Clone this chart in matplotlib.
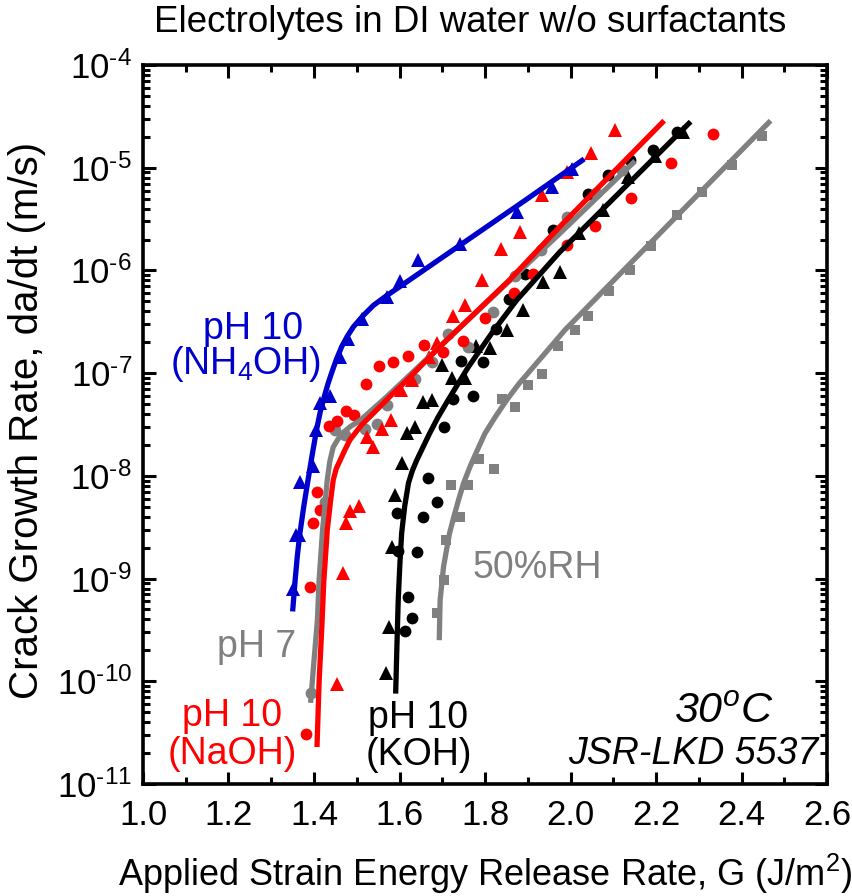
import numpy as np
import matplotlib
matplotlib.use("Agg")
import matplotlib.pyplot as plt
from matplotlib.ticker import FixedLocator, LogLocator, NullFormatter, FuncFormatter, MultipleLocator

plt.rcParams['font.family'] = ['Liberation Sans', 'DejaVu Sans']
plt.rcParams['mathtext.fontset'] = 'custom'
plt.rcParams['mathtext.rm'] = 'Liberation Sans'
plt.rcParams['mathtext.it'] = 'Liberation Sans:italic'

# ---------------- data (G in J/m^2, log10 of da/dt in m/s) ----------------
# pH 10 (NH4OH) - blue
blue_fit_x = [1.350, 1.356, 1.361, 1.367, 1.376, 1.386, 1.396, 1.406, 1.415, 1.426, 1.433, 1.441, 1.452, 1.465,
              1.478, 1.492, 1.515, 1.539, 1.570, 1.600, 1.750, 1.900, 2.032]
blue_fit_logv = [-9.32, -9.01, -8.78, -8.56, -8.30, -8.04, -7.79, -7.55, -7.37, -7.20, -7.10, -7.00, -6.87, -6.74,
                 -6.64, -6.55, -6.44, -6.34, -6.245, -6.16, -5.73, -5.30, -4.915]
blue_tri_x = [1.352, 1.357, 1.366, 1.367, 1.398, 1.404, 1.414, 1.437, 1.461, 1.480, 1.512, 1.570, 1.601, 1.644, 1.742, 1.874, 1.956, 2.003]
blue_tri_logv = [-9.10, -8.58, -8.58, -8.06, -7.90, -7.55, -7.29, -7.22, -6.84, -6.67, -6.47, -6.26, -6.10, -5.90, -5.74, -5.43, -5.19, -5.01]

# pH 10 (NaOH) - red
red_fit_x = [1.407, 1.412, 1.418, 1.423, 1.427, 1.431, 1.438, 1.445, 1.452, 1.461, 1.472, 1.484, 1.510, 1.539,
             1.577, 1.617, 1.695, 1.858, 1.975, 2.219]
red_fit_logv = [-10.64, -10.00, -9.50, -9.02, -8.78, -8.53, -8.27, -8.04, -7.93, -7.85, -7.75, -7.65, -7.51, -7.39,
                -7.23, -7.07, -6.74, -6.09, -5.574, -4.542]
red_circ_x = [1.381, 1.391, 1.397, 1.414, 1.406, 1.434, 1.453, 1.474, 1.493, 1.522, 1.551, 1.584, 1.619, 1.657, 1.701, 1.748, 1.800, 1.868, 1.913, 1.991, 2.057, 2.141, 2.234, 2.333]
red_circ_logv = [-10.51, -9.08, -8.46, -8.33, -8.16, -7.51, -7.47, -7.37, -7.41, -7.11, -6.93, -6.89, -6.83, -6.73, -6.79, -6.69, -6.46, -6.22, -6.03, -5.75, -5.57, -5.29, -4.95, -4.675]
red_tri_x = [1.454, 1.467, 1.476, 1.484, 1.506, 1.523, 1.539, 1.558, 1.580, 1.604, 1.630, 1.668, 1.687, 1.726, 1.753, 1.792, 1.837, 1.882, 1.934, 1.991, 2.048, 2.105]
red_tri_logv = [-10.03, -8.95, -8.46, -8.34, -8.29, -7.62, -7.72, -7.54, -7.46, -7.16, -7.07, -6.84, -6.71, -6.44, -6.34, -6.09, -5.79, -5.63, -5.27, -5.04, -4.86, -4.63]

# pH 7 - gray
gray_fit_x = [1.392, 1.400, 1.408, 1.412, 1.420, 1.431, 1.437, 1.445, 1.455, 1.465, 1.485, 1.508, 1.570, 1.975, 2.151]
gray_fit_logv = [-10.21, -9.80, -9.40, -9.01, -8.53, -8.04, -7.86, -7.72, -7.65, -7.59, -7.52, -7.46, -7.23, -5.64, -4.935]
gray_circ_x = [1.392, 1.426, 1.449, 1.473, 1.519, 1.547, 1.570, 1.636, 1.677, 1.714, 1.761, 1.818, 1.870, 1.930, 1.991, 2.060, 2.120]
gray_circ_logv = [-10.11, -8.25, -7.55, -7.60, -7.54, -7.50, -7.31, -7.06, -6.89, -6.62, -6.75, -6.40, -6.05, -5.80, -5.48, -5.25, -5.02]

# pH 10 (KOH) - black
black_fit_x = [1.591, 1.594, 1.597, 1.601, 1.605, 1.612, 1.621, 1.630, 1.640, 1.655, 1.670, 1.690, 1.714, 1.761,
               1.816, 1.874, 1.975, 2.281]
black_fit_logv = [-10.12, -9.65, -9.21, -8.85, -8.56, -8.30, -8.07, -7.95, -7.85, -7.72, -7.59, -7.43, -7.26, -6.94,
                  -6.61, -6.29, -5.82, -4.552]
black_circ_x = [1.612, 1.630, 1.619, 1.642, 1.597, 1.593, 1.654, 1.667, 1.687, 1.705, 1.724, 1.773, 1.745, 1.795, 1.826, 1.855, 1.894, 1.960, 2.042, 2.087, 2.139, 2.194, 2.248]
black_circ_logv = [-9.51, -9.38, -9.18, -8.74, -8.73, -8.36, -8.40, -8.02, -8.25, -7.52, -7.25, -7.22, -6.88, -6.89, -6.57, -6.28, -6.03, -5.61, -5.26, -5.07, -4.925, -4.83, -4.65]
black_tri_x = [1.569, 1.575, 1.582, 1.589, 1.607, 1.617, 1.636, 1.654, 1.675, 1.699, 1.722, 1.753, 1.780, 1.812, 1.851, 1.890, 1.936, 1.975, 2.020, 2.075, 2.135, 2.198, 2.264]
black_tri_logv = [-9.92, -9.47, -8.69, -8.19, -7.87, -7.58, -7.52, -7.28, -7.26, -6.92, -7.05, -7.05, -6.74, -6.76, -6.58, -6.385, -6.11, -6.02, -5.64, -5.41, -5.09, -4.89, -4.65]

# 50%RH - gray squares
rh_fit_x = [1.693, 1.695, 1.699, 1.703, 1.710, 1.717, 1.727, 1.738, 1.750, 1.765, 1.782, 1.800, 1.825, 1.851,
            1.880, 1.913, 1.950, 1.987, 2.053, 2.468]
rh_fit_logv = [-9.60, -9.21, -9.05, -8.885, -8.72, -8.56, -8.40, -8.236, -8.07, -7.91, -7.75, -7.586, -7.42, -7.26,
               -7.10, -6.94, -6.76, -6.58, -6.30, -4.542]
rh_sq_x = [1.688, 1.703, 1.708, 1.741, 1.720, 1.761, 1.820, 1.787, 1.839, 1.870, 1.901, 1.933, 1.971, 2.011, 2.042, 2.089, 2.139, 2.188, 2.248, 2.307, 2.377, 2.447]
rh_sq_logv = [-9.34, -9.01, -8.62, -8.40, -8.09, -8.09, -7.93, -7.84, -7.255, -7.33, -7.12, -7.01, -6.74, -6.58, -6.44, -6.20, -6.00, -5.76, -5.46, -5.24, -4.97, -4.69]

x_ticks = [1.0, 1.2, 1.4, 1.6, 1.8, 2.0, 2.2, 2.4, 2.6]
x_tick_labels = ["1.0", "1.2", "1.4", "1.6", "1.8", "2.0", "2.2", "2.4", "2.6"]
y_exponents = [-11, -10, -9, -8, -7, -6, -5, -4]

BLUE = "#0000CC"
RED = "#FF0000"
GRAY = "#808080"
BLACK = "#000000"

def v(a):
    return 10.0 ** np.asarray(a)

fig = plt.figure(figsize=(8.52, 8.96), dpi=100)
ax = fig.add_axes([143/852, 1-784/896, (827-143)/852, (784-65)/896])

ms_c = 8.5
ms_t = 9.5
ms_s = 7.5
# markers
ax.plot(rh_sq_x, v(rh_sq_logv), 's', color=GRAY, ms=ms_s, mew=0, zorder=2)
ax.plot(black_circ_x, v(black_circ_logv), 'o', color=BLACK, ms=ms_c, mew=0, zorder=2)
ax.plot(black_tri_x, v(black_tri_logv), '^', color=BLACK, ms=ms_t, mew=0, zorder=2)
ax.plot(gray_circ_x, v(gray_circ_logv), 'o', color=GRAY, ms=ms_c, mew=0, zorder=2)
ax.plot(red_circ_x, v(red_circ_logv), 'o', color=RED, ms=ms_c, mew=0, zorder=2)
ax.plot(red_tri_x, v(red_tri_logv), '^', color=RED, ms=ms_t, mew=0, zorder=2)
ax.plot(blue_tri_x, v(blue_tri_logv), '^', color=BLUE, ms=ms_t, mew=0, zorder=2)
# fitted curves
lw = 3.8
ckw = dict(lw=lw, solid_capstyle='butt', solid_joinstyle='round')
ax.plot(rh_fit_x, v(rh_fit_logv), '-', color=GRAY, zorder=3, **ckw)
ax.plot(black_fit_x, v(black_fit_logv), '-', color=BLACK, zorder=3, **ckw)
ax.plot(gray_fit_x, v(gray_fit_logv), '-', color=GRAY, zorder=3, **ckw)
ax.plot(red_fit_x, v(red_fit_logv), '-', color=RED, zorder=4, **ckw)
ax.plot(blue_fit_x, v(blue_fit_logv), '-', color=BLUE, zorder=4, **ckw)

ax.set_yscale('log')
ax.set_xlim(1.0, 2.6)
ax.set_ylim(1e-11, 1e-4)

ax.xaxis.set_major_locator(FixedLocator(x_ticks))
ax.set_xticklabels(x_tick_labels)
ax.xaxis.set_minor_locator(MultipleLocator(0.1))
ax.yaxis.set_major_locator(FixedLocator([10.0 ** e for e in y_exponents]))
ax.yaxis.set_major_formatter(FuncFormatter(
    lambda val, pos: r'$\mathregular{10^{\text{-}%d}}$' % abs(int(round(np.log10(val))))))
ax.yaxis.set_minor_locator(LogLocator(base=10, subs=np.arange(2, 10), numticks=20))
ax.yaxis.set_minor_formatter(NullFormatter())

ax.tick_params(which='both', direction='in', top=True, right=True, width=2.2)
ax.tick_params(which='major', length=9)
ax.tick_params(which='minor', length=5)
ax.tick_params(axis='x', which='major', labelsize=25, pad=11)
ax.tick_params(axis='y', which='major', labelsize=25, pad=8)
for s in ax.spines.values():
    s.set_linewidth(2.6)

ax.set_xlabel(r'Applied Strain Energy Release Rate, G (J/m$\mathregular{^2}$)', fontsize=26, labelpad=14)
ax.set_ylabel('Crack Growth Rate, da/dt (m/s)', fontsize=29)
ax.yaxis.set_label_coords(-0.142, 0.506)
fig.text(470/852, 1-22/896, 'Electrolytes in DI water w/o surfactants', fontsize=26.5,
         ha='center', va='center')

tkw = dict(transform=fig.transFigure, ha='center', va='center', fontsize=27)
fig.text(253/852, 1-329/896, 'pH 10', color=BLUE, **tkw)
fig.text(246/852, 1-364/896, r'(NH$\mathregular{_4}$OH)', color=BLUE, **tkw)
fig.text(257/852, 1-647/896, 'pH 7', color=GRAY, **tkw)
fig.text(232/852, 1-716/896, 'pH 10', color=RED, **tkw)
fig.text(232/852, 1-754/896, '(NaOH)', color=RED, **tkw)
fig.text(418/852, 1-718/896, 'pH 10', color=BLACK, **tkw)
fig.text(419/852, 1-755/896, '(KOH)', color=BLACK, **tkw)
fig.text(537/852, 1-568/896, '50%RH', color=GRAY, **tkw)
fig.text(724/852, 1-712/896, r'30$^{\mathregular{o}}$C', color=BLACK, fontsize=31, style='italic',
         ha='center', va='center')
fig.text(693/852, 1-754/896, 'JSR-LKD 5537', color=BLACK, fontsize=27, style='italic',
         ha='center', va='center')

fig.savefig('out.png', dpi=100)
